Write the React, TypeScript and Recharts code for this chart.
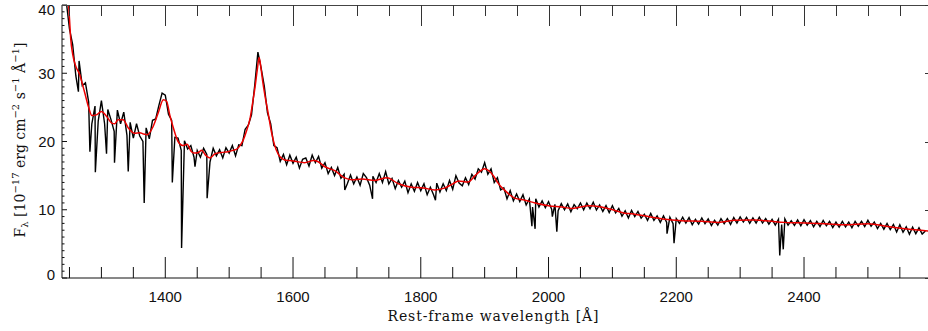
import React from "react";
import { ComposedChart, Line, XAxis, YAxis } from "recharts";

// observed spectrum, sampled every 5 Å starting at 1240 Å (flux in 1e-17 erg/cm2/s/Å)
const specStart = 1240;
const specStep = 5;
const specFlux = [
  50, 40.5, 36.5, 34.2, 29.6, 31.8, 28.2, 28.6, 25.8, 22.6,
  25.2, 23.0, 26.0, 22.6, 24.7, 23.2, 21.5, 24.6, 22.6, 24.3,
  20.9, 22.8, 20.5, 22.6, 20.8, 20.0, 22.0, 20.4, 23.1, 23.3,
  25.3, 27.1, 26.8, 24.0, 23.1, 20.6, 20.5, 18.7, 20.1, 18.9,
  19.4, 17.7, 18.7, 17.7, 19.0, 18.1, 17.0, 19.0, 17.9, 18.8,
  17.6, 19.1, 18.3, 19.4, 17.9, 19.5, 19.4, 21.8, 22.4, 23.9,
  28.2, 33.1, 30.8, 28.1, 24.2, 22.6, 19.4, 19.1, 17.1, 18.1,
  16.6, 18.0, 16.8, 17.7, 16.1, 17.4, 17.6, 16.4, 18.0, 16.9,
  17.8, 16.1, 16.9, 15.3, 16.2, 15.0, 16.2, 14.6, 15.2, 13.8,
  15.1, 13.8, 14.8, 13.6, 15.3, 14.7, 13.6, 14.9, 14.0, 15.3,
  14.0, 15.6, 13.8, 14.6, 13.1, 14.3, 13.3, 14.2, 12.5, 13.8,
  12.7, 14.0, 12.8, 13.8, 12.2, 13.3, 12.2, 13.9, 12.6, 13.8,
  12.8, 14.3, 13.0, 15.0, 13.9, 13.5, 14.7, 13.7, 15.2, 14.5,
  16.0, 15.5, 16.9, 15.2, 16.0, 14.0, 14.7, 12.9, 13.2, 11.6,
  12.8, 11.3, 12.3, 11.2, 12.2, 10.7, 11.6, 10.4, 11.6, 10.4,
  11.3, 10.3, 11.2, 10.05, 10.8, 9.85, 10.9, 10.0, 10.85, 9.7,
  10.75, 10.15, 11.0, 10.0, 11.0, 10.15, 11.1, 9.95, 10.7, 9.75,
  10.6, 9.6, 10.6, 9.55, 10.2, 9.05, 9.85, 8.8, 9.9, 9.0,
  9.75, 8.75, 9.35, 8.45, 9.45, 8.45, 9.1, 8.15, 9.1, 8.15,
  8.9, 7.95, 8.7, 8.0, 8.9, 8.05, 8.85, 7.8, 8.6, 7.9,
  8.8, 7.95, 8.65, 7.7, 8.45, 7.75, 8.7, 7.95, 8.7, 7.85,
  8.85, 8.05, 8.95, 8.2, 8.9, 8.0, 8.8, 8.05, 8.9, 8.05,
  8.7, 7.9, 8.6, 7.75, 8.6, 7.85, 8.65, 7.75, 8.4, 7.7,
  8.5, 7.65, 8.55, 7.75, 8.4, 7.5, 8.3, 7.55, 8.45, 7.65,
  8.3, 7.4, 8.2, 7.45, 8.3, 7.5, 8.2, 7.35, 8.3, 7.6,
  8.3, 7.55, 8.45, 7.6, 8.2, 7.25, 8.0, 7.15, 8.0, 7.1,
  7.85, 6.75, 7.8, 6.7, 7.5, 6.4, 7.45, 6.5, 7.35, 6.45,
  6.9,
];

// narrow absorption features
const absWave = [1264, 1282, 1290.5, 1308, 1320.5, 1342, 1367, 1411, 1425.5, 1446.5, 1465.5, 1681, 1724.5, 1823, 1974, 1979, 2006, 2013, 2185.5, 2196.5, 2362, 2367.5];
const absFlux = [27.3, 18.5, 15.5, 18.2, 16.9, 15.6, 11.0, 14.0, 4.4, 16.3, 11.7, 12.9, 11.6, 11.4, 7.6, 7.2, 9.0, 6.8, 6.5, 5.1, 3.3, 4.2];

// model fit (red)
const fitWave = [
  1238, 1242, 1245, 1248, 1250, 1252, 1255, 1260, 1266, 1270,
  1274, 1280, 1285, 1292, 1300, 1308, 1316, 1321, 1326, 1334,
  1342, 1352, 1360, 1366, 1372, 1381, 1389, 1397, 1402, 1407,
  1412, 1420, 1428, 1434, 1441, 1446, 1452, 1457, 1463, 1470,
  1478, 1488, 1498, 1506, 1512, 1517, 1522, 1527, 1533, 1537,
  1541, 1544, 1547, 1550, 1553, 1557, 1561, 1566, 1571, 1577,
  1587, 1595, 1603, 1618, 1632, 1640, 1650, 1666, 1680, 1692,
  1708, 1728, 1747, 1765, 1786, 1804, 1822, 1838, 1850, 1859,
  1874, 1885, 1892, 1900, 1908, 1915, 1921, 1932, 1947, 1963,
  1979, 2000, 2021, 2036, 2050, 2062, 2083, 2104, 2119, 2130,
  2156, 2182, 2208, 2240, 2266, 2292, 2323, 2349, 2370, 2402,
  2433, 2464, 2500, 2532, 2558, 2599,
];
const fitFlux = [
  56, 49, 44, 41, 38, 35, 32.8, 31.0, 29.8, 28.5,
  27.1, 25.0, 23.8, 23.9, 24.4, 23.7, 22.7, 22.6, 23.2, 23.2,
  22.0, 21.2, 21.3, 21.1, 21.0, 22.2, 24.2, 26.1, 25.9, 23.9,
  22.2, 20.0, 19.4, 19.6, 18.5, 18.3, 18.4, 18.7, 18.0, 17.6,
  18.2, 18.4, 18.5, 18.7, 18.9, 19.4, 20.2, 21.5, 23.5, 25.8,
  28.3, 30.5, 32.3, 30.6, 28.5, 26.2, 24.2, 21.5, 19.5, 18.1,
  17.3, 17.2, 17.1, 16.9, 17.2, 17.0, 16.3, 15.7, 14.7, 14.4,
  14.5, 14.3, 14.7, 13.8, 13.3, 13.2, 12.9, 13.2, 13.8, 14.2,
  14.05, 15.0, 15.6, 16.0, 15.6, 14.8, 13.9, 12.8, 11.7, 11.4,
  11.0, 10.6, 10.4, 10.2, 10.4, 10.6, 10.4, 9.9, 9.5, 9.4,
  9.0, 8.6, 8.4, 8.3, 8.15, 8.45, 8.5, 8.3, 8.15, 8.05,
  7.95, 7.8, 7.95, 7.55, 7.2, 6.85,
];

const xTicks = [
  1250, 1300, 1350, 1400, 1450, 1500, 1550, 1600, 1650, 1700, 1750, 1800, 1850, 1900,
  1950, 2000, 2050, 2100, 2150, 2200, 2250, 2300, 2350, 2400, 2450, 2500, 2550,
];
const xLabels = [1400, 1600, 1800, 2000, 2200, 2400];
const yTicks = [
  0, 1, 2, 3, 4, 5, 6, 7, 8, 9, 10, 11, 12, 13, 14, 15, 16, 17, 18, 19, 20,
  21, 22, 23, 24, 25, 26, 27, 28, 29, 30, 31, 32, 33, 34, 35, 36, 37, 38, 39, 40,
];
const yLabels = [0, 10, 20, 30, 40];

const spectrum = specFlux
  .map((f, i) => ({ wave: specStart + i * specStep, flux: f }))
  .concat(absWave.map((w, i) => ({ wave: w, flux: absFlux[i] })))
  .sort((a, b) => a.wave - b.wave);
const fit = fitWave.map((w, i) => ({ wave: w, flux: fitFlux[i] }));

const PLOT_LEFT = 62;
const PLOT_RIGHT = 931;
const PLOT_TOP = 5;
const PLOT_BOTTOM = 278;
const X_DOMAIN = [1238.3, 2598.8];
const Y_DOMAIN = [0, 40];
const INK = "#111";
const TICK_FONT = "'Liberation Sans', Arial, sans-serif";
const TITLE_FONT = "'DejaVu Serif', serif";

// frame decoration (top / right) uses the same linear mapping as the chart axes
const xPx = (w: number) => PLOT_LEFT + ((w - X_DOMAIN[0]) / (X_DOMAIN[1] - X_DOMAIN[0])) * (PLOT_RIGHT - PLOT_LEFT);
const yPx = (v: number) => PLOT_BOTTOM - ((v - Y_DOMAIN[0]) / (Y_DOMAIN[1] - Y_DOMAIN[0])) * (PLOT_BOTTOM - PLOT_TOP);

const XTick = (props: any) => {
  const { x, payload } = props;
  const major = xLabels.includes(payload.value);
  return (
    <g>
      <line x1={x} x2={x} y1={PLOT_BOTTOM} y2={PLOT_BOTTOM - (major ? 21 : 11)} stroke={INK} />
      {major && (
        <text x={x} y={302} textAnchor="middle" fontFamily={TICK_FONT} fontSize={15} fill={INK}>
          {payload.value}
        </text>
      )}
    </g>
  );
};

const YTick = (props: any) => {
  const { y, payload } = props;
  const major = yLabels.includes(payload.value);
  const dy = payload.value === 0 ? -4 : payload.value === 40 ? 4 : 0;
  return (
    <g>
      <line x1={PLOT_LEFT} x2={PLOT_LEFT + (major ? 5 : 2.5)} y1={y} y2={y} stroke={INK} />
      {major && (
        <text x={55} y={y + dy + 5.5} textAnchor="end" fontFamily={TICK_FONT} fontSize={15} fill={INK}>
          {payload.value}
        </text>
      )}
    </g>
  );
};

export default function App() {
  return (
    <div style={{ position: "relative", width: 928, height: 331, overflow: "hidden", background: "#fff" }}>
      <style>{"body{margin:0}"}</style>
      <ComposedChart width={931} height={331} margin={{ top: PLOT_TOP, right: 0, bottom: 0, left: 0 }}>
        <XAxis
          dataKey="wave"
          type="number"
          domain={X_DOMAIN}
          allowDataOverflow
          ticks={xTicks}
          interval={0}
          height={53}
          tickLine={false}
          axisLine={{ stroke: INK }}
          tick={XTick}
        />
        <YAxis
          type="number"
          domain={Y_DOMAIN}
          allowDataOverflow
          ticks={yTicks}
          interval={0}
          width={62}
          tickLine={false}
          axisLine={{ stroke: INK }}
          tick={YTick}
        />
        <Line
          data={spectrum}
          dataKey="flux"
          type="linear"
          stroke="#000"
          strokeWidth={1.4}
          dot={false}
          activeDot={false}
          isAnimationActive={false}
        />
        <Line
          data={fit}
          dataKey="flux"
          type="monotone"
          stroke="#ee0000"
          strokeWidth={1.5}
          dot={false}
          activeDot={false}
          isAnimationActive={false}
        />
      </ComposedChart>
      {/* top frame edge and inward ticks, drawn as plain html boxes over the chart */}
      <div
        style={{
          position: "absolute",
          left: PLOT_LEFT,
          top: PLOT_TOP,
          width: 928 - PLOT_LEFT,
          height: 1,
          background: "#444",
          zIndex: 5,
        }}
      />
      {xTicks.map((t) => (
        <div
          key={t}
          style={{
            position: "absolute",
            left: Math.round(xPx(t)),
            top: PLOT_TOP,
            width: 1,
            height: xLabels.includes(t) ? 21 : 11,
            background: "#333",
            zIndex: 5,
          }}
        />
      ))}
      {yLabels.map((v) => (
        <div
          key={v}
          style={{
            position: "absolute",
            left: PLOT_RIGHT - 6,
            top: Math.round(yPx(v)),
            width: 6,
            height: 1,
            background: "#333",
            zIndex: 5,
          }}
        />
      ))}
      <svg
        width={928}
        height={331}
        style={{ position: "absolute", left: 0, top: 0, zIndex: 6, pointerEvents: "none" }}
      >
        <text x={493} y={321} textAnchor="middle" fontFamily={TITLE_FONT} fontSize={14} fill={INK} textLength={211} lengthAdjust="spacing">
          Rest-frame wavelength [Å]
        </text>
        <text transform="translate(25,140) rotate(-90)" textAnchor="middle" fontFamily={TITLE_FONT} fontSize={14} fill={INK}>
          F<tspan dy={3} fontSize={10}>λ</tspan>
          <tspan dy={-3}>{" [10"}</tspan>
          <tspan dy={-6} fontSize={10}>−17</tspan>
          <tspan dy={6}>{" erg cm"}</tspan>
          <tspan dy={-6} fontSize={10}>−2</tspan>
          <tspan dy={6}>{" s"}</tspan>
          <tspan dy={-6} fontSize={10}>−1</tspan>
          <tspan dy={6}>{" Å"}</tspan>
          <tspan dy={-6} fontSize={10}>−1</tspan>
          <tspan dy={6}>]</tspan>
        </text>
      </svg>
    </div>
  );
}
